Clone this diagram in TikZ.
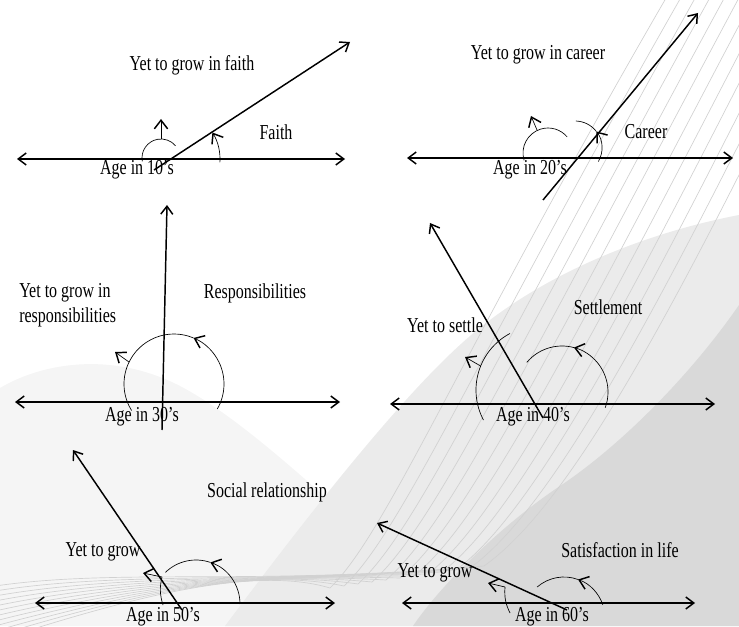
\documentclass[tikz,border=0pt]{standalone}
\usepackage{fontspec}
\setmainfont{Liberation Serif}
\usepackage{graphicx}
\usetikzlibrary{arrows.meta}

\newcommand{\tall}[1]{\scalebox{1}[1.33]{#1}}

\begin{document}
\begin{tikzpicture}[
    x=0.75pt, y=0.75pt,
    >={Straight Barb[length=6pt,width=9pt]},
    ageline/.style={<->, line width=1.1pt},
    life/.style={->, line width=1.1pt},
    turn/.style={line width=0.5pt},
    turnarrow/.style={-{Straight Barb[length=6.5pt,width=10pt,line width=1.1pt]}, line width=0.5pt},
    txt/.style={font=\fontsize{12}{14}\selectfont, inner sep=0pt},
    swirl/.style={black!18, line width=0.5pt}
]
\useasboundingbox (0,0) rectangle (739,626);

% Background
\begin{scope}
\clip (0,0) rectangle (739,626);
\fill[black!4] (0,0) -- (0,238) .. controls (40,262) and (110,276) .. (180,240)
    .. controls (230,214) and (290,160) .. (330,125) -- (420,0) -- cycle;
\fill[black!8] (739,0) -- (739,411) .. controls (640,392) and (540,350) .. (470,290)
    .. controls (400,230) and (300,100) .. (225,0) -- cycle;
\fill[black!15] (739,0) -- (739,321) .. controls (690,250) and (620,180) .. (560,140)
    .. controls (500,100) and (440,40) .. (413,0) -- cycle;
\foreach \i in {0,...,11}
    \draw[swirl] (-5,-15+5*\i) .. controls (120,25+3*\i) and (250,62-2*\i) .. (330+14*\i,38+2*\i)
        .. controls (390+16*\i,96+2*\i) and (470+18*\i,296) .. (700+14*\i,686);
\end{scope}

% Age in 10's
\coordinate (l1) at (17,467);
\coordinate (r1) at (345,467);
\coordinate (o1) at (170,467);
\coordinate (s1) at (154,456);
\coordinate (e1) at (350,584);
\coordinate (c1) at (161,468);
\coordinate (q1) at (161,487);
\coordinate (t1) at (161,507);
\draw[ageline] (l1) -- (r1);
\draw[life] (s1) -- (e1);
\draw[turn] ([shift={(190:19)}]c1) arc[start angle=190, end angle=40, radius=19];
\draw[turnarrow] (q1) -- (t1);
\draw[turnarrow] ([shift={(-4:50)}]o1) arc[start angle=-4, end angle=32, radius=50];
\node[txt] (yet1) at (192,561) {\tall{Yet to grow in faith}};
\node[txt] (faith) at (276,494) {\tall{Faith}};
\node[txt] (age1) at (137,456) {\tall{Age in 10’s}};

% Age in 20's
\coordinate (l2) at (407,468);
\coordinate (r2) at (733,468);
\coordinate (s2) at (543,426);
\coordinate (e2) at (698,613);
\coordinate (c2) at (548,473);
\coordinate (d2) at (575,478);
\coordinate (q2) at (537,496);
\coordinate (t2) at (531,510);
\draw[ageline] (l2) -- (r2);
\draw[life] (s2) -- (e2);
\draw[turn] ([shift={(197:25)}]c2) arc[start angle=197, end angle=40, radius=25];
\draw[turnarrow] (q2) -- (t2);
\draw[turnarrow] ([shift={(-30:27)}]d2) arc[start angle=-30, end angle=38, radius=27];
\draw[turn] ([shift={(38:27)}]d2) arc[start angle=38, end angle=88, radius=27];
\node[txt] (yet2) at (538,571) {\tall{Yet to grow in career}};
\node[txt] (career) at (646,494) {\tall{Career}};
\node[txt] (age2) at (530,456) {\tall{Age in 20’s}};

% Age in 30's
\coordinate (l3) at (15,224);
\coordinate (r3) at (340,224);
\coordinate (s3) at (162,196);
\coordinate (e3) at (167,421);
\coordinate (c3) at (174,242);
\coordinate (t3) at (115,274);
\draw[ageline] (l3) -- (r3);
\draw[life] (s3) -- (e3);
\draw[turnarrow] ([shift={(-30:50)}]c3) arc[start angle=-30, end angle=67, radius=50];
\draw[turn] ([shift={(67:50)}]c3) arc[start angle=67, end angle=212, radius=50];
\draw[turnarrow] ([shift={(154:50)}]c3) -- (t3);
\node[txt, anchor=west] (yet3) at (19,321)
    {\tall{\begin{tabular}{@{}l@{}}Yet to grow in\\responsibilities\end{tabular}}};
\node[txt] (resp) at (255,333) {\tall{Responsibilities}};
\node[txt] (age3) at (142,209) {\tall{Age in 30’s}};

% Age in 40's
\coordinate (l4) at (390,222);
\coordinate (r4) at (715,222);
\coordinate (s4) at (543,208);
\coordinate (e4) at (430,403);
\coordinate (c4) at (540,236);
\coordinate (d4) at (562,234);
\coordinate (t4) at (465,269);
\draw[ageline] (l4) -- (r4);
\draw[life] (s4) -- (e4);
\draw[turn] ([shift={(208:64)}]c4) arc[start angle=208, end angle=118, radius=64];
\draw[turnarrow] ([shift={(158:64)}]c4) -- (t4);
\draw[turnarrow] ([shift={(-20:46)}]d4) arc[start angle=-20, end angle=75, radius=46];
\draw[turn] ([shift={(75:46)}]d4) arc[start angle=75, end angle=140, radius=46];
\node[txt] (yet4) at (445,301) {\tall{Yet to settle}};
\node[txt] (settle) at (608,319) {\tall{Settlement}};
\node[txt] (age4) at (533,209) {\tall{Age in 40’s}};

% Age in 50's
\coordinate (l5) at (35,23);
\coordinate (r5) at (335,23);
\coordinate (s5) at (182,16);
\coordinate (e5) at (73,176);
\coordinate (p5) at (163,21);
\coordinate (q5) at (162,49);
\coordinate (t5) at (143,53);
\coordinate (d5) at (196,22);
\draw[ageline] (l5) -- (r5);
\draw[life] (s5) -- (e5);
\draw[turn] (p5) to[bend left=15] (q5);
\draw[turnarrow] (q5) -- (t5);
\draw[turnarrow] ([shift={(0:44)}]d5) arc[start angle=0, end angle=71, radius=44];
\draw[turn] ([shift={(71:44)}]d5) arc[start angle=71, end angle=134, radius=44];
\node[txt] (yet5) at (103,74) {\tall{Yet to grow}};
\node[txt] (social) at (267,134) {\tall{Social relationship}};
\node[txt] (age5) at (163,9) {\tall{Age in 50’s}};

% Age in 60's
\coordinate (l6) at (402,23);
\coordinate (r6) at (695,23);
\coordinate (s6) at (567,16);
\coordinate (e6) at (377,103);
\coordinate (p6) at (510,13);
\coordinate (q6) at (505,39);
\coordinate (t6) at (488,43);
\coordinate (d6) at (564,8);
\draw[ageline] (l6) -- (r6);
\draw[life] (s6) -- (e6);
\draw[turn] (p6) to[bend left=15] (q6);
\draw[turnarrow] (q6) -- (t6);
\draw[turnarrow] ([shift={(19:41)}]d6) arc[start angle=19, end angle=70, radius=41];
\draw[turn] ([shift={(70:41)}]d6) arc[start angle=70, end angle=131, radius=41];
\node[txt] (yet6) at (435,53) {\tall{Yet to grow}};
\node[txt] (satis) at (620,76) {\tall{Satisfaction in life}};
\node[txt] (age6) at (552,9) {\tall{Age in 60’s}};

\end{tikzpicture}
\end{document}
